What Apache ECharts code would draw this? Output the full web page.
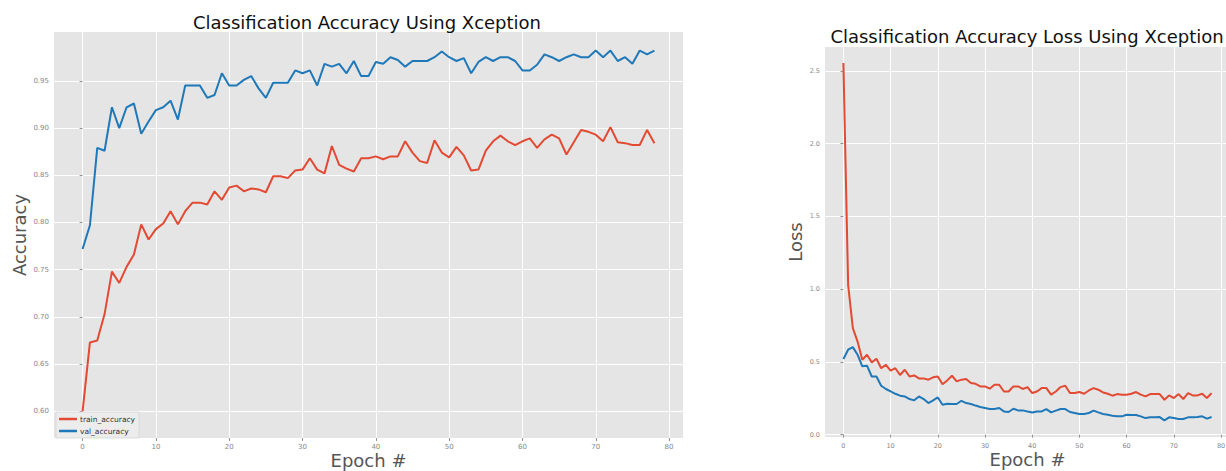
<!DOCTYPE html>
<html>
<head>
<meta charset="utf-8">
<script src="https://cdn.jsdelivr.net/npm/echarts@6/dist/echarts.min.js"></script>
<style>
html,body{margin:0;padding:0;background:#fff;}
#chart{width:1226px;height:471px;}
</style>
</head>
<body>
<div id="chart"></div>
<script>
// ---- data ----
const epochs = [0,1,2,3,4,5,6,7,8,9,10,11,12,13,14,15,16,17,18,19,20,21,22,23,24,25,26,27,28,29,30,31,32,33,34,35,36,37,38,39,40,41,42,43,44,45,46,47,48,49,50,51,52,53,54,55,56,57,58,59,60,61,62,63,64,65,66,67,68,69,70,71,72,73,74,75,76,77,78];
const trainAccuracy = [
  0.600,0.673,0.675,0.703,0.748,0.736,0.753,0.766,0.798,0.782,
  0.793,0.799,0.812,0.798,0.812,0.821,0.821,0.819,0.833,0.824,
  0.837,0.839,0.833,0.836,0.835,0.832,0.849,0.849,0.847,0.855,
  0.856,0.868,0.856,0.852,0.881,0.861,0.857,0.854,0.868,0.868,
  0.870,0.867,0.870,0.870,0.886,0.874,0.865,0.863,0.887,0.874,
  0.869,0.880,0.871,0.855,0.856,0.876,0.886,0.892,0.886,0.882,
  0.886,0.889,0.879,0.888,0.893,0.889,0.872,0.885,0.898,0.896,
  0.893,0.886,0.901,0.885,0.884,0.882,0.882,0.898,0.884];
const valAccuracy = [
  0.772,0.797,0.879,0.876,0.922,0.900,0.922,0.926,0.894,0.907,
  0.919,0.922,0.929,0.909,0.945,0.945,0.945,0.932,0.935,0.958,
  0.945,0.945,0.951,0.955,0.942,0.932,0.948,0.948,0.948,0.961,
  0.958,0.961,0.945,0.968,0.965,0.968,0.958,0.971,0.955,0.955,
  0.970,0.968,0.975,0.972,0.965,0.971,0.971,0.971,0.975,0.981,
  0.975,0.971,0.974,0.958,0.970,0.975,0.971,0.975,0.975,0.971,
  0.961,0.961,0.967,0.978,0.975,0.971,0.975,0.978,0.975,0.975,
  0.982,0.975,0.982,0.971,0.975,0.968,0.982,0.978,0.982];
const trainLoss = [
  2.555,1.030,0.732,0.640,0.515,0.549,0.497,0.522,0.457,0.480,
  0.440,0.457,0.410,0.446,0.400,0.407,0.387,0.387,0.378,0.394,
  0.400,0.347,0.373,0.405,0.366,0.378,0.382,0.355,0.350,0.332,
  0.332,0.316,0.343,0.343,0.297,0.297,0.332,0.332,0.314,0.327,
  0.286,0.297,0.320,0.320,0.275,0.297,0.327,0.336,0.286,0.286,
  0.293,0.281,0.304,0.320,0.309,0.290,0.281,0.268,0.279,0.275,
  0.275,0.281,0.293,0.275,0.263,0.279,0.279,0.279,0.240,0.270,
  0.252,0.279,0.245,0.286,0.270,0.270,0.281,0.252,0.286];
const valLoss = [
  0.520,0.584,0.602,0.550,0.470,0.474,0.400,0.400,0.336,0.314,
  0.297,0.281,0.268,0.263,0.245,0.236,0.263,0.245,0.217,0.236,
  0.256,0.206,0.213,0.211,0.211,0.233,0.217,0.211,0.200,0.190,
  0.183,0.176,0.176,0.183,0.160,0.156,0.178,0.167,0.167,0.160,
  0.153,0.160,0.160,0.176,0.153,0.165,0.176,0.176,0.156,0.149,
  0.142,0.142,0.149,0.165,0.153,0.142,0.137,0.130,0.126,0.126,
  0.137,0.135,0.135,0.126,0.114,0.119,0.119,0.121,0.098,0.119,
  0.114,0.108,0.108,0.119,0.119,0.121,0.126,0.110,0.121];
const xTicks = [0,10,20,30,40,50,60,70,80];
const accTicks = [0.60,0.65,0.70,0.75,0.80,0.85,0.90,0.95];
const lossTicks = [0.0,0.5,1.0,1.5,2.0,2.5];
const titles = ['Classification Accuracy Using Xception','Classification Accuracy Loss Using Xception'];

// ---- chart ----
const RED = '#e24a33', BLUE = '#1f78b8';
const FONT = 'DejaVu Sans';
const pair = (ys) => epochs.map((e, i) => [e, ys[i]]);

function xAxis(gi, fs){
  return {
    type:'value', gridIndex: gi, min:-3.9, max:81.9,
    name:'Epoch #', nameLocation:'middle', nameGap: 13, nameMoveOverlap:false,
    nameTextStyle:{fontFamily:FONT, fontSize:18, color:'#555', verticalAlign:'top', lineHeight:19},
    axisLine:{show:false},
    axisTick:{show:true, customValues: xTicks, length:3, lineStyle:{color:'#777', width:0.8}},
    axisLabel:{customValues: xTicks, fontFamily:FONT, fontSize:fs, color:'#888', margin:5},
    splitLine:{show:true, lineStyle:{color:'#ffffff', width:1}}
  };
}
function yAxis(gi, name, min, max, ticks, dec, fs, gap){
  return {
    type:'value', gridIndex: gi, min:min, max:max,
    name:name, nameLocation:'middle', nameGap: gap, nameMoveOverlap:false,
    nameTextStyle:{fontFamily:FONT, fontSize:18, color:'#555'},
    axisLine:{show:false},
    axisTick:{show:true, customValues: ticks, length:3, lineStyle:{color:'#777', width:0.8}},
    axisLabel:{customValues: ticks, fontFamily:FONT, fontSize:fs, color:'#888', margin:5,
      formatter:(v)=>v.toFixed(dec)},
    splitLine:{show:true, lineStyle:{color:'#ffffff', width:1}}
  };
}

const chart = echarts.init(document.getElementById('chart'), null, {renderer:'svg'});
chart.setOption({
  animation:false,
  backgroundColor:'#ffffff',
  title:[
    {text:titles[0], left:367, top:13, textAlign:'center', textVerticalAlign:'top', padding:0,
     textStyle:{fontFamily:FONT, fontSize:18, fontWeight:'normal', color:'#111'}},
    {text:titles[1], left:1027, top:27, textAlign:'center', textVerticalAlign:'top', padding:0,
     textStyle:{fontFamily:FONT, fontSize:18, fontWeight:'normal', color:'#111'}}
  ],
  grid:[
    {left:54, right:543, top:32, bottom:33, show:true, backgroundColor:'#e5e5e5', borderWidth:0,
     containLabel:false, outerBoundsMode:'none'},
    {left:825, right:-4, top:47, bottom:34, show:true, backgroundColor:'#e5e5e5', borderWidth:0,
     containLabel:false, outerBoundsMode:'none'}
  ],
  xAxis:[xAxis(0,7), xAxis(1,6.5)],
  yAxis:[yAxis(0,'Accuracy',0.5718,1.0017,accTicks,2,7,26), yAxis(1,'Loss',-0.016,2.665,lossTicks,1,6.5,21)],
  legend:{
    data:['train_accuracy','val_accuracy'], orient:'vertical', left:56, top:412,
    icon:'rect', itemWidth:18, itemHeight:2.5, itemGap:4,
    padding:[3,4,3,3], backgroundColor:'rgba(236,236,236,0.9)', borderColor:'#d5d5d5', borderWidth:0.8,
    textStyle:{fontFamily:FONT, fontSize:7.5, color:'#333', padding:[0,0,0,-2]}
  },
  series:[
    {name:'train_accuracy', type:'line', xAxisIndex:0, yAxisIndex:0, data:pair(trainAccuracy),
     showSymbol:false, lineStyle:{color:RED, width:2}, itemStyle:{color:RED}},
    {name:'val_accuracy', type:'line', xAxisIndex:0, yAxisIndex:0, data:pair(valAccuracy),
     showSymbol:false, lineStyle:{color:BLUE, width:2}, itemStyle:{color:BLUE}},
    {name:'train_loss', type:'line', xAxisIndex:1, yAxisIndex:1, data:pair(trainLoss),
     showSymbol:false, lineStyle:{color:RED, width:2}, itemStyle:{color:RED}},
    {name:'val_loss', type:'line', xAxisIndex:1, yAxisIndex:1, data:pair(valLoss),
     showSymbol:false, lineStyle:{color:BLUE, width:2}, itemStyle:{color:BLUE}}
  ]
});
</script>
</body>
</html>
